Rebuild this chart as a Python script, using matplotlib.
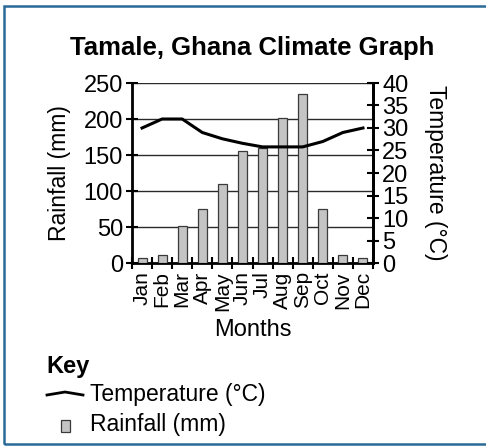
import matplotlib
matplotlib.use("Agg")
import matplotlib.pyplot as plt
from matplotlib.patches import Rectangle
from matplotlib.lines import Line2D
import numpy as np

plt.rcParams['font.family'] = ['Liberation Sans', 'DejaVu Sans']

months = ["Jan", "Feb", "Mar", "Apr", "May", "Jun",
          "Jul", "Aug", "Sep", "Oct", "Nov", "Dec"]
rainfall_mm = [7, 11, 51, 75, 110, 155, 160, 202, 235, 75, 11, 7]
temperature_c = [30, 32, 32, 29, 27.6, 26.6, 25.8, 25.8, 25.8, 27, 29, 30]

rain_ticks = [0, 50, 100, 150, 200, 250]
temp_ticks = [0, 5, 10, 15, 20, 25, 30, 35, 40]

W, H = 486, 446
fig = plt.figure(figsize=(W / 100, H / 100), dpi=100)

# frame around the whole graphic
fig.add_artist(Rectangle((4 / W, 2 / H), 1.2, (H - 8) / H, transform=fig.transFigure,
                         fill=False, edgecolor="#2b6a96", linewidth=1.8))

ax = fig.add_axes([132 / W, 1 - 263 / H, (373 - 132) / W, (263 - 83) / H])
x = np.arange(len(months))
ax.bar(x, rainfall_mm, width=0.45, color="#c4c4c4", edgecolor="#3a3a3a",
       linewidth=0.9, zorder=3)
ax.set_xlim(-0.5, len(months) - 0.5)
ax.set_ylim(0, 250)
ax.set_yticks(rain_ticks)
ax.set_yticklabels([str(v) for v in rain_ticks], fontsize=17)
ax.yaxis.grid(True, color="#2a2a2a", linewidth=1.0, zorder=1)
ax.set_axisbelow(True)

ax.set_xticks(x)
ax.set_xticklabels(months, rotation=90, fontsize=15)
ax.set_xticks(np.arange(-0.5, len(months)), minor=True)
ax.tick_params(axis="x", which="major", length=0, pad=6)
ax.tick_params(axis="x", which="minor", direction="inout", length=9, width=1.5)
ax.tick_params(axis="y", direction="inout", length=9, width=1.5, pad=2)

for side in ("left", "right", "bottom"):
    ax.spines[side].set_linewidth(2)
ax.spines["top"].set_visible(False)

ax.set_ylabel("Rainfall (mm)", fontsize=16.5, labelpad=9)
ax.set_xlabel("Months", fontsize=17, labelpad=6)
ax.set_title("Tamale, Ghana Climate Graph", fontsize=18.5, fontweight="bold", pad=20)

ax2 = ax.twinx()
ax2.plot(x, temperature_c, color="black", linewidth=2.2, zorder=4)
ax2.set_ylim(0, 40)
ax2.set_yticks(temp_ticks)
ax2.set_yticklabels([str(v) for v in temp_ticks], fontsize=17)
ax2.tick_params(axis="y", direction="inout", length=9, width=1.5, pad=2)
ax2.spines["right"].set_linewidth(2)
ax2.spines["top"].set_visible(False)
ax2.spines["left"].set_visible(False)
ax2.spines["bottom"].set_visible(False)
ax2.set_ylabel("Temperature (°C)", fontsize=16.5, rotation=270, labelpad=28)

# key
fig.text(46 / W, 1 - 367 / H, "Key", fontsize=17, fontweight="bold", va="center")
fig.add_artist(Line2D([47 / W, 65 / W, 83 / W],
                      [1 - 395 / H, 1 - 392 / H, 1 - 395 / H],
                      transform=fig.transFigure, color="black", linewidth=2))
fig.text(90 / W, 1 - 395 / H, "Temperature (°C)", fontsize=16.5, va="center")
fig.add_artist(Rectangle((61 / W, 1 - 432 / H), 9 / W, 12 / H, transform=fig.transFigure,
                         facecolor="#c4c4c4", edgecolor="#3a3a3a", linewidth=0.9))
fig.text(90 / W, 1 - 424 / H, "Rainfall (mm)", fontsize=16.5, va="center")

fig.savefig("out.png", dpi=100)
